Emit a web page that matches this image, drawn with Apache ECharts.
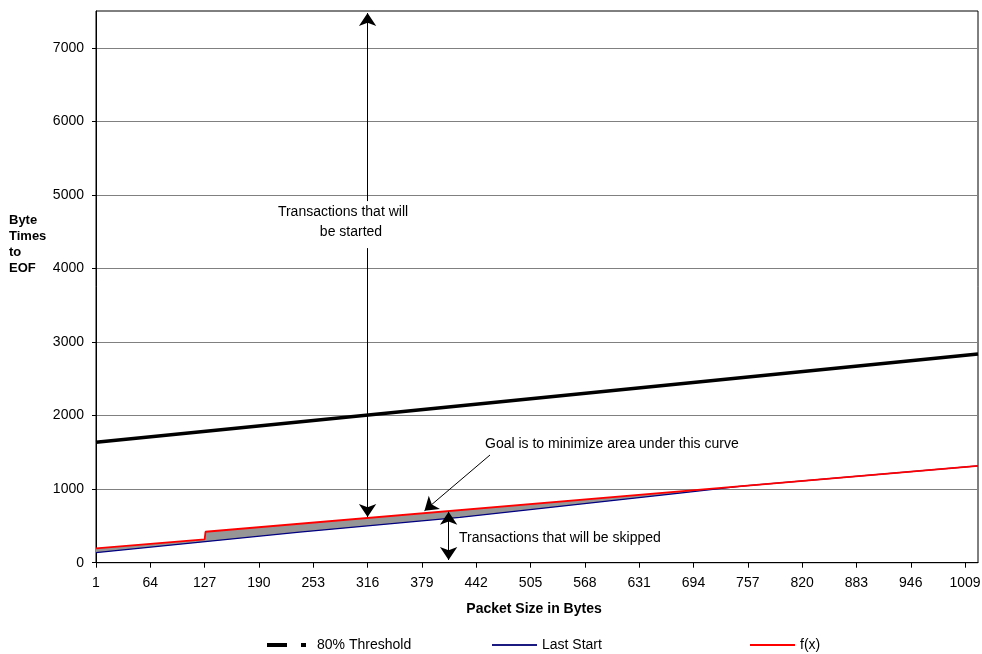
<!DOCTYPE html>
<html><head><meta charset="utf-8">
<script src="https://cdn.jsdelivr.net/npm/echarts@6/dist/echarts.min.js"></script>
<style>html,body{margin:0;padding:0;background:#fff}#c{width:982px;height:654px}</style>
</head><body><div id="c"></div>
<script>
// ---- data ----
const xTickLabels = [1,64,127,190,253,316,379,442,505,568,631,694,757,820,883,946,1009];
const yTickLabels = [0,1000,2000,3000,4000,5000,6000,7000];
const seriesNames = ['80% Threshold','Last Start','f(x)'];
const thresholdX = [1,1024];
const thresholdY = [1637,2837];
const lastStartX = [1,237,423,678,750,1024];
const lastStartY = [136,415,615,945,1040,1317];
const fxX = [1,127,128,750,1024];
const fxY = [196,318,421,1040,1317];
// annotation arrows (data coordinates)
const startedArrowTop = [[316,7472],[316,4916]];
const startedArrowBottom = [[316,4277],[316,621]];
const goalArrow = [[458,1464],[382,707]];
const skippedArrow = [[410,693],[410,37]];

const FONT = 'Arial, "Liberation Sans", sans-serif';
const pairs = (xs, ys) => xs.map((x, i) => [x, ys[i]]);

const chart = echarts.init(document.getElementById('c'), null, {renderer: 'canvas'});

const arrowEnd = (a, b, s1, s2) => [
  {coord: a, symbol: s1, symbolSize: [13, 13]},
  {coord: b, symbol: s2, symbolSize: [13, 13]}
];

chart.setOption({
  animation: false,
  backgroundColor: '#fff',
  textStyle: {fontFamily: FONT},
  grid: {left: 96, right: 4, top: 11, bottom: 91.3, show: true, borderColor: '#000', borderWidth: 1,
         backgroundColor: 'transparent', containLabel: false, outerBoundsMode: 'none'},
  xAxis: {
    type: 'value', min: 1, max: 1024,
    axisLine: {lineStyle: {color: '#000', width: 1}},
    axisTick: {customValues: xTickLabels, length: 5, lineStyle: {color: '#000'}},
    axisLabel: {customValues: xTickLabels, color: '#000', fontSize: 14, fontFamily: FONT, margin: 13,
                formatter: v => String(v)},
    splitLine: {show: false}
  },
  yAxis: {
    type: 'value', min: 0, max: 7500,
    axisLine: {show: true, lineStyle: {color: '#000', width: 1}},
    axisTick: {show: true, customValues: yTickLabels, length: 4, lineStyle: {color: '#000'}},
    axisLabel: {customValues: yTickLabels, color: '#000', fontSize: 14, fontFamily: FONT, margin: 12,
                formatter: v => String(v)},
    splitLine: {show: true, lineStyle: {color: '#808080', width: 1}}
  },
  legend: [
    {data: [seriesNames[0]], left: 267, top: 638, padding: 0, itemWidth: 39, itemHeight: 4,
     icon: 'path://M0,0H20V4H0Z M34,0H39V4H34Z',
     itemStyle: {borderWidth: 0}, lineStyle: {width: 0},
     textStyle: {fontSize: 14, color: '#000', fontFamily: FONT, padding: [0,0,0,6]}},
    {data: [seriesNames[1]], left: 492, top: 638, padding: 0, itemWidth: 45, itemHeight: 2, icon: 'rect',
     itemStyle: {borderWidth: 0}, lineStyle: {width: 0},
     textStyle: {fontSize: 14, color: '#000', fontFamily: FONT}},
    {data: [seriesNames[2]], left: 750, top: 638, padding: 0, itemWidth: 45, itemHeight: 2, icon: 'rect',
     itemStyle: {borderWidth: 0}, lineStyle: {width: 0},
     textStyle: {fontSize: 14, color: '#000', fontFamily: FONT}}
  ],
  graphic: [
    {type: 'text', left: 9, top: 212, z: 100,
     style: {text: 'Byte\nTimes\nto\nEOF', font: 'bold 13px ' + FONT, fill: '#000', lineHeight: 16}},
    {type: 'text', z: 100, x: 534, y: 609, style: {text: 'Packet Size in Bytes', font: 'bold 14px ' + FONT, fill: '#000', align: 'center', verticalAlign: 'middle'}},
    {type: 'text', z: 100, x: 343, y: 212, style: {text: 'Transactions that will', font: '14px ' + FONT, fill: '#000', align: 'center', verticalAlign: 'middle'}},
    {type: 'text', z: 100, x: 351, y: 232, style: {text: 'be started', font: '14px ' + FONT, fill: '#000', align: 'center', verticalAlign: 'middle'}},
    {type: 'text', z: 100, x: 485, y: 444, style: {text: 'Goal is to minimize area under this curve', font: '14px ' + FONT, fill: '#000', align: 'left', verticalAlign: 'middle'}},
    {type: 'text', z: 100, x: 459, y: 538, style: {text: 'Transactions that will be skipped', font: '14px ' + FONT, fill: '#000', align: 'left', verticalAlign: 'middle'}}
  ],
  series: [
    {
      name: 'gap', type: 'custom', z: 1, silent: true, clip: true,
      data: [[fxX[0], fxY[0]]],
      renderItem: function (params, api) {
        const pts = [];
        fxX.forEach((x, i) => pts.push(api.coord([x, fxY[i]])));
        for (let i = lastStartX.length - 1; i >= 0; i--) pts.push(api.coord([lastStartX[i], lastStartY[i]]));
        return {type: 'polygon', shape: {points: pts}, style: {fill: '#969696', stroke: null}};
      }
    },
    {
      name: seriesNames[0], type: 'line', data: pairs(thresholdX, thresholdY),
      symbol: 'none', color: '#000', lineStyle: {color: '#000', width: 3.5}, z: 3,
      markLine: {
        silent: true, animation: false,
        label: {show: false},
        lineStyle: {color: '#000', width: 1, type: 'solid'},
        emphasis: {disabled: true},
        data: [
          arrowEnd(startedArrowTop[0], startedArrowTop[1], 'arrow', 'none'),
          arrowEnd(startedArrowBottom[0], startedArrowBottom[1], 'none', 'arrow'),
          arrowEnd(goalArrow[0], goalArrow[1], 'none', 'arrow'),
          arrowEnd(skippedArrow[0], skippedArrow[1], 'arrow', 'arrow')
        ]
      }
    },
    {
      name: seriesNames[1], type: 'line', data: pairs(lastStartX, lastStartY),
      symbol: 'none', color: '#1a1a80', lineStyle: {color: '#000080', width: 1.2}, z: 3
    },
    {
      name: seriesNames[2], type: 'line', data: pairs(fxX, fxY),
      symbol: 'none', color: '#ff0000', lineStyle: {color: '#ff0000', width: 1.8}, z: 4
    }
  ]
});
</script>
</body></html>
